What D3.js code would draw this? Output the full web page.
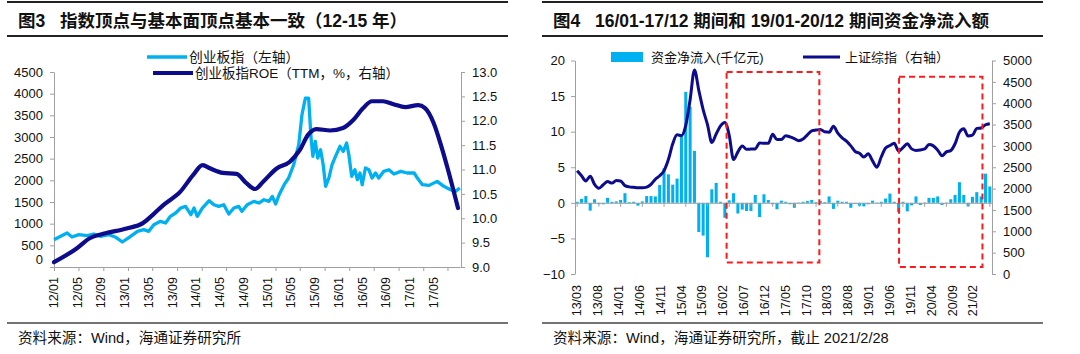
<!DOCTYPE html>
<html>
<head>
<meta charset="utf-8">
<script src="https://cdn.jsdelivr.net/npm/d3@7"></script>
<style>
body { margin: 0; background: #fff; }
svg { display: block; }
text { font-family: "Liberation Sans", "Noto Sans CJK SC", sans-serif; fill: #111; }
.axis path, .axis line { stroke: #a0a0a0; stroke-width: 1; }
.axis text { font-size: 13px; fill: #111; }
</style>
</head>
<body>
<svg id="chart" width="1080" height="354"></svg>
<script>
// ---- left chart: ChiNext index vs ROE ----
var cybDates = ["2012-01-01","2012-02-03","2012-03-06","2012-03-30","2012-05-03","2012-06-13","2012-07-16","2012-08-19","2012-09-29","2012-11-02","2012-12-04","2013-01-07","2013-02-17","2013-03-20","2013-04-14","2013-05-09","2013-06-11","2013-07-06","2013-07-30","2013-08-25","2013-09-19","2013-10-13","2013-11-08","2013-11-24","2013-12-10","2014-01-04","2014-02-07","2014-03-02","2014-03-26","2014-04-20","2014-05-15","2014-06-09","2014-07-03","2014-07-19","2014-08-14","2014-09-16","2014-10-11","2014-11-05","2014-11-30","2014-12-16","2015-01-02","2015-01-19","2015-02-13","2015-03-07","2015-04-01","2015-04-26","2015-05-12","2015-05-29","2015-06-14","2015-06-26","2015-07-05","2015-07-17","2015-07-29","2015-08-12","2015-08-25","2015-09-06","2015-09-22","2015-10-08","2015-10-25","2015-11-16","2015-12-02","2015-12-19","2015-12-30","2016-01-13","2016-01-29","2016-02-10","2016-02-23","2016-03-05","2016-03-21","2016-04-07","2016-04-23","2016-05-10","2016-05-26","2016-06-20","2016-07-15","2016-08-09","2016-09-12","2016-10-14","2016-11-17","2016-12-03","2016-12-28","2017-01-30","2017-03-11","2017-04-13","2017-05-16","2017-06-10","2017-07-01"];
var cybValues = [630,708,784,692,746,723,761,708,746,685,577,685,823,861,823,976,1054,1015,1170,1246,1361,1400,1207,1361,1170,1361,1530,1437,1400,1437,1223,1361,1400,1285,1437,1515,1476,1553,1515,1630,1453,1668,1899,2053,2360,2821,3513,3899,3899,2976,2554,2900,2515,2706,2360,1862,2053,2360,2554,2785,2669,2861,2591,2092,2245,2014,2169,1899,2284,2245,2053,2169,2053,2207,2245,2145,2207,2169,2169,2053,1899,1884,1976,1862,1784,1746,1822];

var roeDates = ["2012-01-01","2012-04-22","2012-06-26","2012-09-01","2012-12-25","2013-03-16","2013-05-04","2013-06-25","2013-09-16","2013-11-20","2014-01-05","2014-02-13","2014-04-16","2014-06-22","2014-08-10","2014-09-22","2014-11-01","2015-01-07","2015-03-13","2015-05-01","2015-06-11","2015-07-22","2015-09-28","2015-12-01","2016-01-22","2016-03-10","2016-04-22","2016-06-16","2016-08-07","2016-10-04","2016-12-07","2017-01-10","2017-02-22","2017-04-01","2017-05-04","2017-06-22"];
var roeValues = [9.10,9.38,9.59,9.68,9.79,9.90,10.07,10.27,10.54,10.89,11.09,11.02,10.93,10.91,10.72,10.60,10.75,11.02,11.16,11.40,11.71,11.83,11.80,11.85,12.02,12.26,12.40,12.40,12.34,12.28,12.32,12.26,11.95,11.47,10.99,10.21];

var leftTickLabels = ["12/01","12/05","12/09","13/01","13/05","13/09","14/01","14/05","14/09","15/01","15/05","15/09","16/01","16/05","16/09","17/01","17/05"];

// ---- right chart: net fund inflow vs Shanghai Composite ----
var flowMonths = d3.timeMonth.range(new Date(2013, 2, 1), new Date(2021, 2, 1)).map(d3.timeFormat("%y/%m"));
var flowValues = [0.15,0.55,0.95,-1.1,0.5,-0.2,-0.2,0.7,0.15,0.2,0.4,1.35,0.1,0.15,-0.4,0.2,0.95,0.95,0.9,2.5,
  4.85,4.0,2.55,3.4,9.4,15.6,13.5,7.3,-4.1,-4.6,-7.65,1.9,2.8,0.15,-2.1,0.35,1.35,-1.5,-0.95,-1.15,
  -1.15,1.1,-2.0,1.2,0.4,-0.2,-0.9,0.3,0.15,-0.2,-0.7,0.05,0.15,0.25,0.4,0.1,0.25,0.1,0.9,-0.85,
  0.3,0.15,0.15,-0.7,-0.1,-0.4,-0.5,-0.2,0.3,0.05,0.15,0.6,1.3,0.15,-1.3,0.15,-1.2,-0.35,0.9,-0.3,
  0.05,0.7,0.7,0.9,-0.3,0.05,0.5,1.1,2.9,1.1,-0.5,0.85,1.5,0.9,4.1,2.3];
var shValues = [2420,2300,2180,2290,2100,2010,2090,2165,2130,2190,2180,2070,2040,2030,2020,2020,2035,2100,2220,2300,
  2420,2680,3050,3260,3240,3480,4080,4780,4300,3850,3500,3080,3280,3470,3550,3250,2680,2860,3000,2920,
  2925,2930,3070,3060,3060,3270,3150,3150,3240,3210,3170,3120,3160,3260,3350,3370,3385,3330,3320,3460,
  3300,3190,3110,3000,2870,2830,2740,2815,2650,2500,2740,2950,3010,3060,2880,2960,3050,2930,2895,2905,
  2930,3030,3000,2900,2770,2860,2890,3050,3320,3400,3230,3250,3410,3420,3495,3520];
var rightTickLabels = ["13/03","13/08","14/01","14/06","14/11","15/04","15/09","16/02","16/07","16/12","17/05","17/10","18/03","18/08","19/01","19/06","19/11","20/04","20/09","21/02"];

// highlight boxes (category position, left-axis value)
var boxFrom = [34.9, 74.6];
var boxTo = [56.25, 93.8];
var boxTop = [18.4, 17.7];
var boxBottom = [-8.4, -9.0];

var light = "#00b0f0", navy = "#0c0c8c";
var svg = d3.select("#chart");
svg.append("rect").attr("width", 1080).attr("height", 354).attr("fill", "#fff");

function frame(x0, x1, title1, title2, t2x, note) {
  svg.append("line").attr("x1", x0).attr("x2", x1).attr("y1", 2).attr("y2", 2).attr("stroke", "#222").attr("stroke-width", 2);
  svg.append("line").attr("x1", x0).attr("x2", x1).attr("y1", 36).attr("y2", 36).attr("stroke", "#222").attr("stroke-width", 2);
  svg.append("line").attr("x1", x0).attr("x2", x1).attr("y1", 323).attr("y2", 323).attr("stroke", "#444").attr("stroke-width", 1.5);
  svg.append("text").attr("x", x0 + 11).attr("y", 27).attr("font-size", 17.5).attr("font-weight", "bold").text(title1);
  svg.append("text").attr("x", t2x).attr("y", 27).attr("font-size", 17.5).attr("font-weight", "bold").text(title2);
  svg.append("text").attr("x", x0 + 11).attr("y", 343).attr("font-size", 14.6).attr("fill", "#222").text(note);
}
frame(7, 508, "图3", "指数顶点与基本面顶点基本一致（12-15 年）", 60, "资料来源：Wind，海通证券研究所");
frame(542, 1043, "图4", "16/01-17/12 期间和 19/01-20/12 期间资金净流入额", 595, "资料来源：Wind，海通证券研究所，截止 2021/2/28");

// ================= left chart =================
var parse = d3.timeParse("%Y-%m-%d");
var xL = d3.scaleTime().domain([new Date(2012, 0, 1), new Date(2017, 6, 2)]).range([54, 460]);
var yIdx = d3.scaleLinear().domain([0, 4500]).range([267, 72]);
var yRoe = d3.scaleLinear().domain([9, 13]).range([267, 72]);

var gl = svg.append("g");
var axL = gl.append("g").attr("class", "axis").attr("transform", "translate(54,0)")
  .call(d3.axisLeft(yIdx).tickValues(d3.range(0, 4501, 500)).tickFormat(d3.format("d")).tickSize(4).tickSizeOuter(0).tickPadding(7));
axL.selectAll(".tick text").filter(d => d === 0).attr("y", -8);
gl.append("g").attr("class", "axis").attr("transform", "translate(461,0)")
  .call(d3.axisRight(yRoe).tickValues(d3.range(9, 13.01, 0.5)).tickFormat(d3.format(".1f")).tickSize(4).tickSizeOuter(0).tickPadding(7));
gl.append("g").attr("class", "axis").attr("transform", "translate(0,267)")
  .call(d3.axisBottom(xL).ticks(d3.timeMonth.every(4)).tickFormat("").tickSize(4).tickSizeOuter(0));

var leftLab = d3.scalePoint().domain(leftTickLabels).range([53.5, 433.5]);
gl.selectAll(".xlab").data(leftTickLabels).enter().append("text")
  .attr("transform", d => "translate(" + leftLab(d) + ",277) rotate(-90)")
  .attr("text-anchor", "end").attr("dy", "0.35em").attr("font-size", 12.5).text(d => d);

var cyb = cybDates.map((d, i) => ({ date: parse(d), v: cybValues[i] }));
var roe = roeDates.map((d, i) => ({ date: parse(d), v: roeValues[i] }));

gl.append("path").datum(cyb).attr("fill", "none").attr("stroke", light).attr("stroke-width", 3.3).attr("stroke-linejoin", "round")
  .attr("d", d3.line().x(d => xL(d.date)).y(d => yIdx(d.v)));
gl.append("path").datum(roe).attr("fill", "none").attr("stroke", navy).attr("stroke-width", 4.2).attr("stroke-linecap", "round")
  .attr("d", d3.line().curve(d3.curveMonotoneX).x(d => xL(d.date)).y(d => yRoe(d.v)));

// legend
gl.append("line").attr("x1", 147).attr("x2", 187).attr("y1", 57).attr("y2", 57).attr("stroke", light).attr("stroke-width", 3.3);
gl.append("text").attr("x", 189).attr("y", 57).attr("dominant-baseline", "central").attr("font-size", 13.8).attr("fill", "#222").text("创业板指（左轴）");
gl.append("line").attr("x1", 153).attr("x2", 193).attr("y1", 73).attr("y2", 73).attr("stroke", navy).attr("stroke-width", 4.2);
gl.append("text").attr("x", 195).attr("y", 73).attr("dominant-baseline", "central").attr("font-size", 13.5).attr("fill", "#222").text("创业板指ROE（TTM，%，右轴）");

// ================= right chart =================
var xR = d3.scaleBand().domain(flowMonths).range([575, 992]).paddingInner(0.3).paddingOuter(0.15);
var yFlow = d3.scaleLinear().domain([-10, 20]).range([274, 60.5]);
var ySh = d3.scaleLinear().domain([0, 5000]).range([274, 60.5]);
var step = xR.step();
var catPos = d => xR.range()[0] + d * step;

var gr = svg.append("g");
gr.append("g").attr("class", "axis").attr("transform", "translate(575,0)")
  .call(d3.axisLeft(yFlow).tickValues(d3.range(-10, 21, 5)).tickSize(4).tickSizeOuter(0).tickPadding(6));
gr.append("g").attr("class", "axis").attr("transform", "translate(992,0)")
  .call(d3.axisRight(ySh).tickValues(d3.range(0, 5001, 500)).tickFormat(d3.format("d")).tickSize(4).tickSizeOuter(0).tickPadding(7));

gr.selectAll(".bar").data(flowValues).enter().append("rect")
  .attr("x", (d, i) => xR(flowMonths[i]))
  .attr("width", xR.bandwidth())
  .attr("y", d => yFlow(Math.max(0, d)))
  .attr("height", d => Math.abs(yFlow(d) - yFlow(0)))
  .attr("fill", light);

gr.append("g").attr("class", "axis").attr("transform", "translate(0," + yFlow(0) + ")")
  .call(d3.axisBottom(xR).tickValues(flowMonths.filter((d, i) => i % 5 === 0)).tickFormat("").tickSize(4).tickSizeOuter(0));

var rightLab = d3.scalePoint().domain(rightTickLabels).range([577, 973]);
gr.selectAll(".xlab").data(rightTickLabels).enter().append("text")
  .attr("transform", d => "translate(" + rightLab(d) + ",285) rotate(-90)")
  .attr("text-anchor", "end").attr("dy", "0.35em").attr("font-size", 12.5).text(d => d);

gr.append("path").datum(shValues).attr("fill", "none").attr("stroke", navy).attr("stroke-width", 3).attr("stroke-linejoin", "round")
  .attr("d", d3.line().curve(d3.curveMonotoneX).x((d, i) => xR(flowMonths[i]) + xR.bandwidth() / 2).y(d => ySh(d)));

gr.selectAll(".box").data(boxFrom).enter().append("rect")
  .attr("x", (d, i) => catPos(d))
  .attr("width", (d, i) => catPos(boxTo[i]) - catPos(d))
  .attr("y", (d, i) => yFlow(boxTop[i]))
  .attr("height", (d, i) => yFlow(boxBottom[i]) - yFlow(boxTop[i]))
  .attr("fill", "none").attr("stroke", "#ff1a1a").attr("stroke-width", 2).attr("stroke-dasharray", "6,4");

// legend
gr.append("rect").attr("x", 611).attr("y", 52).attr("width", 32).attr("height", 10).attr("fill", light);
gr.append("text").attr("x", 651).attr("y", 57).attr("dominant-baseline", "central").attr("font-size", 13).attr("fill", "#222").text("资金净流入(千亿元)");
gr.append("line").attr("x1", 803).attr("x2", 840).attr("y1", 57).attr("y2", 57).attr("stroke", navy).attr("stroke-width", 3);
gr.append("text").attr("x", 845).attr("y", 57).attr("dominant-baseline", "central").attr("font-size", 13).attr("fill", "#222").text("上证综指（右轴）");
</script>
</body>
</html>
